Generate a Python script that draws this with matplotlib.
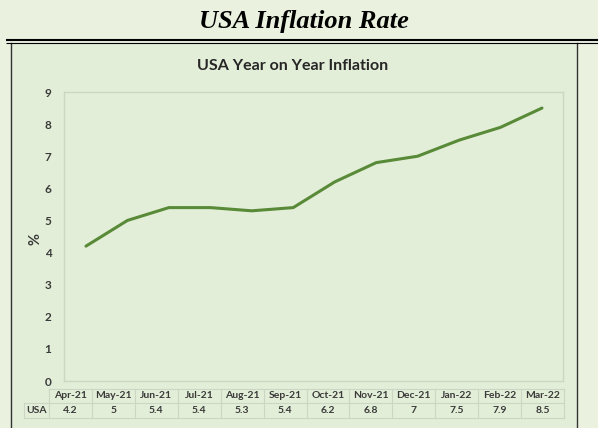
import matplotlib
matplotlib.use("Agg")
import matplotlib.pyplot as plt
import numpy as np

# Data
months = ["Apr-21", "May-21", "Jun-21", "Jul-21", "Aug-21", "Sep-21",
          "Oct-21", "Nov-21", "Dec-21", "Jan-22", "Feb-22", "Mar-22"]
usa_inflation = [4.2, 5, 5.4, 5.4, 5.3, 5.4, 6.2, 6.8, 7, 7.5, 7.9, 8.5]
value_labels = ["4.2", "5", "5.4", "5.4", "5.3", "5.4", "6.2", "6.8", "7", "7.5", "7.9", "8.5"]
y_ticks = list(range(0, 10))
series_name = "USA"

W, H = 598, 428
BG = "#eaf1df"
CHART_BG = "#e3eed8"
LINE = "#588a38"
GRID = "#cdd5c4"
TXT = "#3a3a3a"
SANS = ["Lato", "DejaVu Sans"]

fig = plt.figure(figsize=(W / 100, H / 100), dpi=100, facecolor=BG)

# Overlay in pixel coordinates for page decoration and the data table
ov = fig.add_axes([0, 0, 1, 1], zorder=0)
ov.set_xlim(0, W)
ov.set_ylim(H, 0)
ov.axis("off")

# Chart area panel
ov.add_patch(plt.Rectangle((10, 43), 567, H - 43, facecolor=CHART_BG, edgecolor="none"))
ov.plot([10.5, 10.5], [43, H], color="#333333", lw=1.0)
ov.plot([577, 577], [43, H], color="#333333", lw=1.0)

# Double rule under the page heading
ov.plot([6, W], [40, 40], color="black", lw=1.5, solid_capstyle="butt")
ov.plot([6, W], [42.6, 42.6], color="black", lw=0.8, solid_capstyle="butt")

ov.text(304, 21, "USA Inflation Rate", ha="center", va="center",
        fontsize=19, fontweight="bold", fontstyle="italic",
        family=["Liberation Serif", "DejaVu Serif"], color="black")
ov.text(293, 66, "USA Year on Year Inflation", ha="center", va="center",
        fontsize=11.5, fontweight="bold", family=SANS, color="#262626")

# Line chart
left, right, top, bottom = 64, 563, 92, 381
ax = fig.add_axes([left / W, (H - bottom) / H, (right - left) / W, (bottom - top) / H], zorder=2)
ax.set_facecolor("none")
x = np.arange(len(months))
ax.plot(x, usa_inflation, color=LINE, lw=2.2, solid_capstyle="round")
ax.set_xlim(-0.53, len(months) - 1 + 0.507)
ax.set_ylim(0, 9)
ax.set_yticks(y_ticks)
ax.set_yticklabels([str(t) for t in y_ticks], fontsize=8.5, fontweight="bold",
                   family=SANS, color=TXT)
ax.set_xticks([])
ax.tick_params(axis="y", length=0, pad=9)
for s in ax.spines.values():
    s.set_color(GRID)
    s.set_linewidth(1.0)
ax.set_ylabel("%", fontsize=10.5, fontweight="bold", family=SANS, color=TXT)
ax.yaxis.label.set_va("center")
ax.yaxis.set_label_coords((35 - left) / (right - left), 0.49)

# Data table below the axis
t_left, t_right = 49, 564
col_w = (t_right - t_left) / len(months)
r0, r1, r2 = 389, 403, 418
lab_left = 24
tc = GRID
ov.plot([t_left, t_right], [r0, r0], color=tc, lw=0.8)
ov.plot([lab_left, t_right], [r1, r1], color=tc, lw=0.8)
ov.plot([lab_left, t_right], [r2, r2], color=tc, lw=0.8)
ov.plot([lab_left, lab_left], [r1, r2], color=tc, lw=0.8)
for i in range(len(months) + 1):
    xx = t_left + i * col_w
    ov.plot([xx, xx], [r0, r2], color=tc, lw=0.8)
for i, (m, v) in enumerate(zip(months, value_labels)):
    cx = t_left + (i + 0.5) * col_w
    ov.text(cx, (r0 + r1) / 2, m, ha="center", va="center", fontsize=7.5,
            fontweight="bold", family=SANS, color=TXT)
    ov.text(cx, (r1 + r2) / 2, v, ha="center", va="center", fontsize=7.5,
            fontweight="bold", family=SANS, color=TXT)
ov.text((lab_left + t_left) / 2, (r1 + r2) / 2, series_name, ha="center", va="center",
        fontsize=7.5, fontweight="bold", family=SANS, color=TXT)

fig.savefig("out.png", dpi=100, facecolor=BG)
